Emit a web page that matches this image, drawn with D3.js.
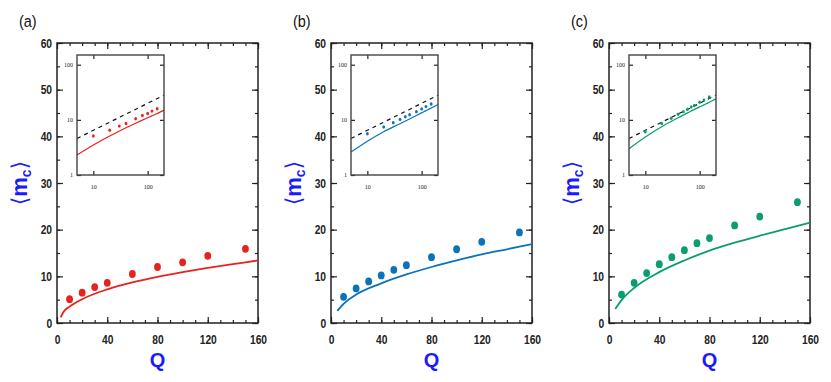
<!DOCTYPE html>
<html lang="en">
<head>
<meta charset="UTF-8">
<title>mc vs Q</title>
<script src="https://d3js.org/d3.v7.min.js"></script>
<style>
  body { margin: 0; background: #fff; }
  .tk text { font-family: "Liberation Sans Narrow", "Arial Narrow", "Liberation Sans", sans-serif; font-weight: bold; font-size: 12.5px; fill: #222; }
  .itk text { font-family: "Liberation Serif", "DejaVu Serif", serif; font-size: 6px; fill: #222; }
  .tk path, .itk path { display: none; }
  .tk line, .itk line { stroke: #222; stroke-width: 1.2; }
</style>
</head>
<body>
<div id="chart"></div>
<script>
// ---- data ----
const panelTags = ["(a)", "(b)", "(c)"];
const panelColors = ["#e6231c", "#0b73b8", "#0a9c72"];

const pointQa = [10, 20, 30, 40, 60, 80, 100, 120, 150];
const pointMa = [5.1, 6.5, 7.7, 8.6, 10.5, 12.0, 13.0, 14.4, 15.9];
const pointQb = [10, 20, 30, 40, 50, 60, 80, 100, 120, 150];
const pointMb = [5.6, 7.4, 8.9, 10.2, 11.4, 12.4, 14.1, 15.8, 17.4, 19.4];
const pointQc = [10, 20, 30, 40, 50, 60, 70, 80, 100, 120, 150];
const pointMc = [6.1, 8.6, 10.7, 12.6, 14.1, 15.6, 17.1, 18.2, 20.9, 22.8, 25.9];

const curveQa = [3, 5, 10, 20, 40, 60, 80, 100, 120, 140, 160, 200];
const curveMa = [1.2, 2.3, 3.5, 5.1, 7.2, 8.7, 9.9, 10.9, 11.8, 12.6, 13.4, 15.0];
const curveQb = [5, 10, 20, 40, 60, 80, 100, 120, 140, 160, 200];
const curveMb = [2.6, 4.1, 6.1, 8.5, 10.4, 12.0, 13.4, 14.7, 15.8, 16.9, 19.0];
const curveQc = [5, 10, 20, 40, 60, 80, 100, 120, 140, 160, 200];
const curveMc = [3.0, 4.9, 7.5, 10.9, 13.4, 15.5, 17.2, 18.7, 20.1, 21.5, 24.0];

// black dashed reference line in the insets
const dashQ = [5, 200];
const dashM = [4.6, 28];

const xMajor = [0, 40, 80, 120, 160];
const xMinor = d3.range(0, 161, 10);
const yMajor = [0, 10, 20, 30, 40, 50, 60];
const yMinor = d3.range(0, 61, 5);
const insetXTicks = [10, 100];
const insetYTicks = [1, 10, 100];

const zip = (a, b) => a.map((v, i) => [v, b[i]]);
const panels = [
  { tag: panelTags[0], color: panelColors[0], pts: zip(pointQa, pointMa), curve: zip(curveQa, curveMa) },
  { tag: panelTags[1], color: panelColors[1], pts: zip(pointQb, pointMb), curve: zip(curveQb, curveMb) },
  { tag: panelTags[2], color: panelColors[2], pts: zip(pointQc, pointMc), curve: zip(curveQc, curveMc) }
];

const W = 831, H = 382;
const svg = d3.select("#chart").append("svg")
  .attr("width", W).attr("height", H)
  .attr("viewBox", [0, 0, W, H]);
svg.append("rect").attr("width", W).attr("height", H).attr("fill", "#fff");

const lefts = [57, 331, 609];
const plotTop = 43, pw = 201, ph = 280;

function drawPanel(p, left) {
  const g = svg.append("g").attr("transform", `translate(${left},${plotTop})`);
  const x = d3.scaleLinear().domain([0, 160]).range([0, pw]);
  const y = d3.scaleLinear().domain([0, 60]).range([ph, 0]);

  // minor ticks, all four sides
  g.append("g").attr("class", "tk").attr("transform", `translate(0,${ph})`)
    .call(d3.axisBottom(x).tickValues(xMinor).tickSize(-3).tickFormat(""));
  g.append("g").attr("class", "tk")
    .call(d3.axisTop(x).tickValues(xMinor).tickSize(-3).tickFormat(""));
  g.append("g").attr("class", "tk")
    .call(d3.axisLeft(y).tickValues(yMinor).tickSize(-3).tickFormat(""));
  g.append("g").attr("class", "tk").attr("transform", `translate(${pw},0)`)
    .call(d3.axisRight(y).tickValues(yMinor).tickSize(-3).tickFormat(""));
  // major ticks
  g.append("g").attr("class", "tk").attr("transform", `translate(0,${ph})`)
    .call(d3.axisBottom(x).tickValues(xMajor).tickSize(-6).tickPadding(12))
    .selectAll("text").attr("transform", "scale(0.82,1)");
  g.append("g").attr("class", "tk")
    .call(d3.axisTop(x).tickValues(xMajor).tickSize(-6).tickFormat(""));
  g.append("g").attr("class", "tk")
    .call(d3.axisLeft(y).tickValues(yMajor).tickSize(-6).tickPadding(6))
    .selectAll("text").attr("transform", "scale(0.82,1)");
  g.append("g").attr("class", "tk").attr("transform", `translate(${pw},0)`)
    .call(d3.axisRight(y).tickValues(yMajor).tickSize(-6).tickFormat(""));

  g.append("rect").attr("width", pw).attr("height", ph)
    .attr("fill", "none").attr("stroke", "#222").attr("stroke-width", 1.5);

  const line = d3.line().x(d => x(d[0])).y(d => y(d[1])).curve(d3.curveMonotoneX);
  g.append("path").datum(p.curve.filter(d => d[0] <= 160))
    .attr("d", line).attr("fill", "none")
    .attr("stroke", p.color).attr("stroke-width", 1.8);
  g.selectAll("ellipse.pt").data(p.pts).join("ellipse").attr("class", "pt")
    .attr("cx", d => x(d[0])).attr("cy", d => y(d[1]))
    .attr("rx", 3.4).attr("ry", 3.9)
    .attr("fill", p.color);

  // inset (log-log)
  const ix0 = 20, iy0 = 12, iw = 87, ih = 120;
  const ig = g.append("g").attr("transform", `translate(${ix0},${iy0})`);
  const lx = d3.scaleLog().domain([5, 200]).range([0, iw]);
  const ly = d3.scaleLog().domain([1, 150]).range([ih, 0]);
  ig.append("rect").attr("width", iw).attr("height", ih).attr("fill", "#fff");
  ig.append("g").attr("class", "itk").attr("transform", `translate(0,${ih})`)
    .call(d3.axisBottom(lx).tickValues(insetXTicks).tickSize(-4).tickPadding(10).tickFormat(d3.format("d")));
  ig.append("g").attr("class", "itk")
    .call(d3.axisTop(lx).tickValues(insetXTicks).tickSize(-4).tickFormat(""));
  ig.append("g").attr("class", "itk")
    .call(d3.axisLeft(ly).tickValues(insetYTicks).tickSize(-4).tickPadding(4).tickFormat(d3.format("d")));
  ig.append("g").attr("class", "itk").attr("transform", `translate(${iw},0)`)
    .call(d3.axisRight(ly).tickValues(insetYTicks).tickSize(-4).tickFormat(""));

  const lline = d3.line().x(d => lx(d[0])).y(d => ly(d[1]));
  ig.append("path").datum(zip(dashQ, dashM)).attr("d", lline)
    .attr("fill", "none").attr("stroke", "#111").attr("stroke-width", 1.2)
    .attr("stroke-dasharray", "4,4");
  ig.append("path").datum(p.curve.filter(d => d[0] >= 5))
    .attr("d", lline.curve(d3.curveMonotoneX)).attr("fill", "none")
    .attr("stroke", p.color).attr("stroke-width", 1.2);
  ig.selectAll("ellipse").data(p.pts).join("ellipse")
    .attr("cx", d => lx(d[0])).attr("cy", d => ly(d[1]))
    .attr("rx", 1.4).attr("ry", 1.7)
    .attr("fill", p.color);
  ig.append("rect").attr("width", iw).attr("height", ih)
    .attr("fill", "none").attr("stroke", "#444").attr("stroke-width", 1.4);

  // labels
  svg.append("text").attr("transform", `translate(${left - 38},27) scale(0.85,1)`)
    .attr("font-family", "Liberation Sans, Arial, sans-serif")
    .attr("font-size", 17).attr("fill", "#111").text(p.tag);
  svg.append("text").attr("x", left + pw / 2).attr("y", 367)
    .attr("text-anchor", "middle")
    .attr("font-family", "Liberation Sans, Arial, sans-serif")
    .attr("font-weight", "bold").attr("font-size", 20).attr("fill", "#1a1aff")
    .text("Q");
  const yl = svg.append("text")
    .attr("transform", `translate(${left - 30},${plotTop + ph / 2}) rotate(-90)`)
    .attr("text-anchor", "middle")
    .attr("font-family", "DejaVu Sans, Liberation Sans, sans-serif")
    .attr("font-size", 22).attr("fill", "#1a1aff");
  yl.append("tspan").text("\u27E8");
  yl.append("tspan").attr("font-weight", "bold").attr("font-family", "Liberation Sans, Arial, sans-serif").text("m");
  yl.append("tspan").attr("font-weight", "bold").attr("font-size", 14).attr("dy", 4)
    .attr("font-family", "Liberation Sans, Arial, sans-serif").text("c");
  yl.append("tspan").attr("dy", -4).text("\u27E9");
}

panels.forEach((p, i) => drawPanel(p, lefts[i]));
</script>
</body>
</html>
